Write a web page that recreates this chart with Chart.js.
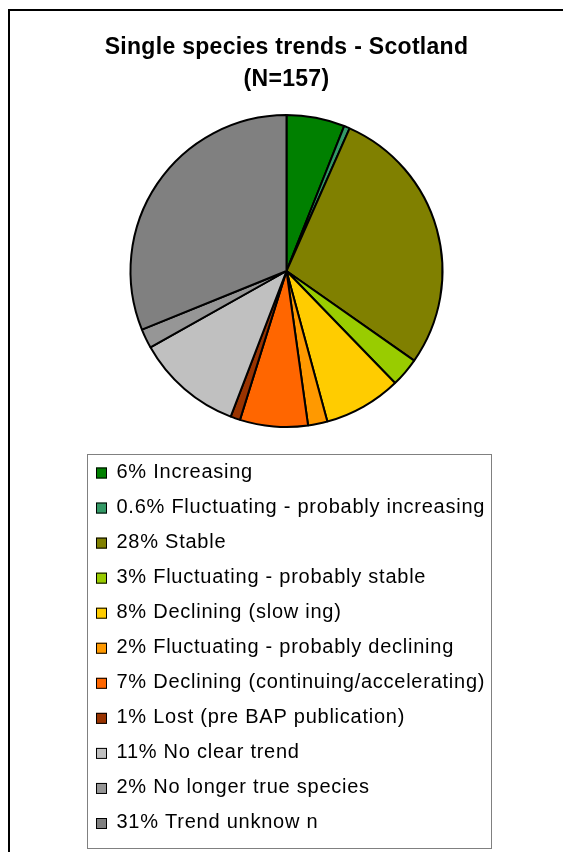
<!DOCTYPE html>
<html>
<head>
<meta charset="utf-8">
<title>Single species trends - Scotland</title>
<script src="https://cdn.jsdelivr.net/npm/chart.js@4/dist/chart.umd.min.js"></script>
<style>
  html, body { margin: 0; padding: 0; background: #fff; }
  canvas { display: block; }
</style>
</head>
<body>
<canvas id="trendsChart" width="563" height="852"></canvas>
<script>
const categories = [
  "Increasing",
  "Fluctuating - probably increasing",
  "Stable",
  "Fluctuating - probably stable",
  "Declining (slow ing)",
  "Fluctuating - probably declining",
  "Declining (continuing/accelerating)",
  "Lost (pre BAP publication)",
  "No clear trend",
  "No longer true species",
  "Trend unknow n"
];
const shares = [6, 0.6, 28, 3, 8, 2, 7, 1, 11, 2, 31];
const colours = [
  "#008000", "#339966", "#808000", "#99cc00", "#ffcc00", "#ff9900",
  "#ff6600", "#993300", "#c0c0c0", "#969696", "#808080"
];
const titleLines = ["Single species trends - Scotland", "(N=157)"];

const FONT = "'Liberation Sans', Arial, sans-serif";

// outer frame (top and left edges only show)
const frame = {
  id: "frame",
  beforeDraw(chart) {
    const ctx = chart.ctx;
    ctx.save();
    ctx.strokeStyle = "#000";
    ctx.lineWidth = 2;
    ctx.beginPath();
    ctx.moveTo(9, 852);
    ctx.lineTo(9, 10);
    ctx.lineTo(563, 10);
    ctx.stroke();
    ctx.restore();
    ctx.letterSpacing = "0.3px";
  },
  beforeDatasetsDraw(chart) {
    chart.ctx.letterSpacing = "0px";
  }
};

// boxed legend, one entry per row
const boxLegend = {
  id: "boxLegend",
  afterDraw(chart) {
    const ctx = chart.ctx;
    const labels = chart.data.labels;
    const ds = chart.data.datasets[0];
    ctx.save();
    ctx.fillStyle = "#fff";
    ctx.fillRect(87, 454, 404, 394);
    ctx.strokeStyle = "#808080";
    ctx.lineWidth = 1;
    ctx.strokeRect(87.5, 454.5, 404, 394);
    ctx.font = "20px " + FONT;
    ctx.letterSpacing = "0.75px";
    ctx.textBaseline = "alphabetic";
    ctx.textAlign = "left";
    labels.forEach((label, i) => {
      const cy = 472.5 + i * 35.05;
      ctx.fillStyle = ds.backgroundColor[i];
      ctx.fillRect(96, cy - 5, 11, 11);
      ctx.strokeStyle = "#000";
      ctx.strokeRect(96.5, cy - 4.5, 10, 10);
      ctx.fillStyle = "#000";
      ctx.fillText(ds.data[i] + "% " + label, 116.5, cy + 5.2);
    });
    ctx.restore();
  }
};

const ctx = document.getElementById("trendsChart").getContext("2d");
const chart = new Chart(ctx, {
  type: "pie",
  data: {
    labels: categories,
    datasets: [{
      data: shares,
      backgroundColor: colours,
      borderColor: "#000",
      borderWidth: 2
    }]
  },
  options: {
    responsive: false,
    animation: false,
    radius: 156,
    layout: {
      padding: {left: 10, right: 0, top: 0, bottom: 406}
    },
    plugins: {
      legend: {display: false},
      tooltip: {enabled: false},
      title: {
        display: true,
        text: titleLines,
        color: "#000",
        font: {family: FONT, size: 23, weight: "bold", lineHeight: 32 / 23},
        padding: {top: 32, bottom: 0}
      }
    }
  },
  plugins: [frame, boxLegend]
});
</script>
</body>
</html>
